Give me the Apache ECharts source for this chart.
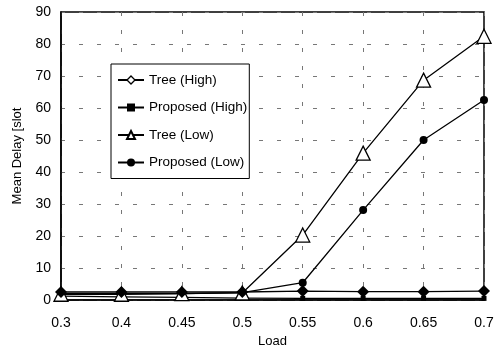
<!DOCTYPE html>
<html>
<head>
<meta charset="utf-8">
<script src="https://cdn.jsdelivr.net/npm/echarts@6/dist/echarts.min.js"></script>
<style>html,body{margin:0;padding:0;background:#fff}#main{width:504px;height:348px}</style>
</head>
<body>
<div id="main"></div>
<script>
var myChart = echarts.init(document.getElementById('main'));
var loads = ['0.3', '0.4', '0.45', '0.5', '0.55', '0.6', '0.65', '0.7'];
var treeHigh = [2.5, 2.5, 2.5, 2.5, 2.8, 2.6, 2.6, 2.8];
var propHigh = [1.2, 1.0, 0.8, 0.6, 0.5, 0.5, 0.5, 0.5];
var treeLow = [1.8, 1.8, 2.0, 2.2, 20.3, 45.9, 68.7, 82.4];
var propLow = [2.0, 2.0, 2.0, 2.3, 5.4, 28.1, 50, 62.5];
var names = ['Tree (High)', 'Proposed (High)', 'Tree (Low)', 'Proposed (Low)'];

var font = 'Liberation Sans, Arial, sans-serif';
var lineStyle = {color: '#000', width: 1.3};

var option = {
	backgroundColor: '#fff',
	animation: false,
	textStyle: {fontFamily: font},
	legend: {
		orient: 'vertical',
		left: 111,
		top: 64,
		padding: [9, 2, 9, 6],
		itemGap: 13.5,
		itemWidth: 26,
		itemHeight: 10,
		borderColor: '#000',
		borderWidth: 1,
		backgroundColor: '#fff',
		textStyle: {color: '#000', fontSize: 13.5, fontFamily: font},
		data: [
			{name: names[0], itemStyle: {color: '#fff', borderColor: '#000', borderWidth: 1.3}},
			names[1], names[2], names[3]
		]
	},
	grid: {
		left: 61, right: 20, top: 12, bottom: 48,
		containLabel: false,
		outerBoundsMode: 'none',
		show: true, borderColor: '#000', borderWidth: 1.5
	},
	xAxis: {
		type: 'category',
		data: loads,
		boundaryGap: false,
		name: 'Load',
		nameLocation: 'middle',
		nameGap: 34,
		nameTextStyle: {color: '#000', fontSize: 13},
		axisLine: {lineStyle: {color: '#000', width: 1.5}},
		axisTick: {show: false},
		axisLabel: {color: '#000', fontSize: 14, margin: 16},
		splitLine: {show: true, lineStyle: {color: '#777', type: [4, 14], width: 1}}
	},
	yAxis: {
		type: 'value',
		min: 0, max: 90, interval: 10,
		name: 'Mean Delay [slot',
		nameLocation: 'middle',
		nameGap: 37,
		nameTextStyle: {color: '#000', fontSize: 13},
		axisLine: {show: true, lineStyle: {color: '#000', width: 1.5}},
		axisTick: {show: false},
		axisLabel: {color: '#000', fontSize: 14, margin: 10},
		splitLine: {show: true, lineStyle: {color: '#777', type: [4, 14], width: 1}}
	},
	series: [
		{name: names[1], type: 'line', data: propHigh, symbol: 'rect', symbolSize: 5,
			lineStyle: lineStyle, itemStyle: {color: '#000'}},
		{name: names[3], type: 'line', data: propLow, symbol: 'circle', symbolSize: 8,
			lineStyle: lineStyle, itemStyle: {color: '#000'}},
		{name: names[2], type: 'line', data: treeLow, symbol: 'triangle', symbolSize: 14,
			lineStyle: lineStyle, itemStyle: {color: '#fff', borderColor: '#000', borderWidth: 1.3}},
		{name: names[0], type: 'line', data: treeHigh, symbol: 'diamond', symbolSize: 12,
			lineStyle: lineStyle, itemStyle: {color: '#000'}}
	]
};
myChart.setOption(option, true);
</script>
</body>
</html>
